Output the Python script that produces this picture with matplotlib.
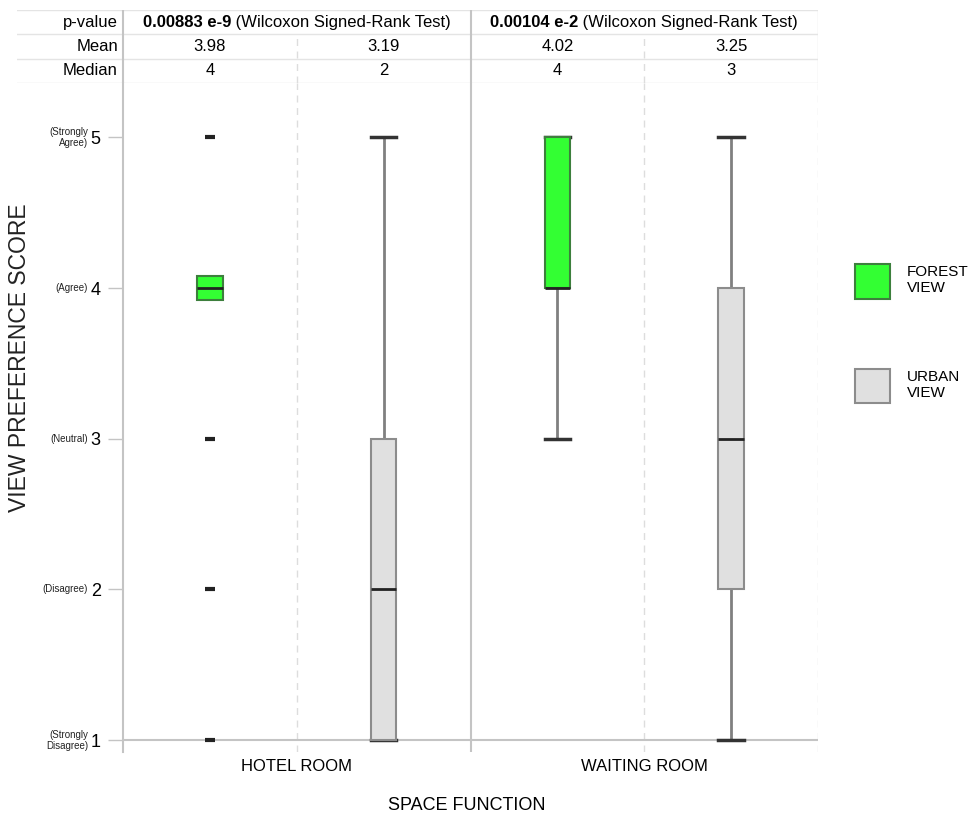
import matplotlib
matplotlib.use("Agg")
import matplotlib.pyplot as plt
from matplotlib.patches import Patch
from matplotlib.transforms import offset_copy, blended_transform_factory

plt.rcParams['font.family'] = ['Liberation Sans', 'DejaVu Sans']

# data
groups = ["HOTEL ROOM", "WAITING ROOM"]
views = ["FOREST\nVIEW", "URBAN\nVIEW"]
view_colors = ["#33ff33", "#e0e0e0"]
view_edges = ["#3d7f3d", "#8c8c8c"]

# box order: hotel/forest, hotel/urban, waiting/forest, waiting/urban
box_q1 = [3.92, 1, 4, 2]
box_med = [4, 2, 4, 3]
box_q3 = [4.08, 3, 5, 4]
box_lo = [4, 1, 3, 1]
box_hi = [4, 5, 5, 5]
box_fliers = [[5, 3, 2, 1], [], [], []]

p_values = ["0.00883 e-9", "0.00104 e-2"]
test_name = " (Wilcoxon Signed-Rank Test)"
mean_txt = ["3.98", "3.19", "4.02", "3.25"]
median_txt = ["4", "2", "4", "3"]
row_labels = ["p-value", "Mean", "Median"]

score_ticks = [1, 2, 3, 4, 5]
score_desc = ["(Strongly\nDisagree)", "(Disagree)", "(Neutral)", "(Agree)", "(Strongly\nAgree)"]

W, H = 974, 819
fig = plt.figure(figsize=(W / 100, H / 100), dpi=100)

ax_l, ax_r, ax_t, ax_b = 123, 818, 83, 752
ax = fig.add_axes([ax_l / W, 1 - ax_b / H, (ax_r - ax_l) / W, (ax_b - ax_t) / H])
ax.set_xlim(-0.5, 1.5)
ax.set_ylim(0.922, 5.36)

offs = [-0.25, 0.25]
positions = [g + o for g in range(len(groups)) for o in offs]
stats = []
for i in range(len(positions)):
    stats.append(dict(med=box_med[i], q1=box_q1[i], q3=box_q3[i],
                      whislo=box_lo[i], whishi=box_hi[i], fliers=box_fliers[i]))

bw = 0.074
bp = ax.bxp(stats, positions=positions, widths=bw, capwidths=bw, patch_artist=True,
            boxprops=dict(linewidth=1.5),
            medianprops=dict(color="#222222", linewidth=2),
            whiskerprops=dict(color="#808080", linewidth=2),
            capprops=dict(color="#333333", linewidth=2.5),
            flierprops=dict(marker="_", markersize=7, markeredgewidth=3,
                            markeredgecolor="#222222"),
            zorder=3)
for i, box in enumerate(bp["boxes"]):
    box.set_facecolor(view_colors[i % 2])
    box.set_edgecolor(view_edges[i % 2])
    box.set_zorder(4)
for m in bp["medians"]:
    m.set_zorder(5)
# the hotel/forest box has no whiskers (all answers at 4)
for art in bp["caps"][0:2] + bp["whiskers"][0:2]:
    art.set_visible(False)

# grid / separators
ax.axhline(1, color="#c4c4c4", lw=1.5, zorder=1)
for g in range(len(groups)):
    ax.axvline(g, color="#dddddd", lw=1, ls=(0, (5, 4)), zorder=0)
ax.axvline(0.5, color="#c4c4c4", lw=1.5, zorder=0)
ax.axvline(1.5, color="#e2e2e2", lw=1, ls=(0, (5, 4)), zorder=0)

for s in ["top", "right", "bottom"]:
    ax.spines[s].set_visible(False)
ax.spines["left"].set_color("#c4c4c4")
ax.spines["left"].set_linewidth(1.5)

ax.set_yticks(score_ticks)
ax.set_yticklabels([str(t) for t in score_ticks], fontsize=13)
ax.tick_params(axis="y", length=11, width=1, color="#c4c4c4", pad=5)
ax.set_xticks(range(len(groups)))
ax.set_xticklabels(groups, fontsize=12)
ax.tick_params(axis="x", length=0, pad=5)

trans = blended_transform_factory(fig.transFigure, ax.transData)
for t, d in zip(score_ticks, score_desc):
    ax.text(88 / W, t, d, transform=trans, ha="right", va="center",
            fontsize=7, linespacing=1.15, color="#222222")

fig.text(20 / W, 1 - 358 / H, "VIEW PREFERENCE SCORE", rotation=90,
         ha="center", va="center", fontsize=16.5, color="#222222")
fig.text(467 / W, 1 - 806 / H, "SPACE FUNCTION", ha="center", va="center", fontsize=13)

# table above the plot
tb_l, tb_t = 17, 10
tx = fig.add_axes([tb_l / W, 1 - ax_t / H, (ax_r - tb_l) / W, (ax_t - tb_t) / H])
tx.set_xlim(-0.5 - (ax_l - tb_l) / (ax_r - ax_l) * 2, 1.5)
tx.set_ylim(0, 3)
tx.axis("off")
for yy in [0, 1, 2, 3]:
    tx.axhline(yy, color="#e4e4e4", lw=1)
tx.axvline(-0.5, color="#c4c4c4", lw=1.5)
tx.axvline(0.5, color="#c4c4c4", lw=1.5)
tx.axvline(1.5, color="#e4e4e4", lw=1)
for g in range(len(groups)):
    tx.plot([g, g], [0, 2], color="#dddddd", lw=1, ls=(0, (5, 4)))

lab_trans = blended_transform_factory(fig.transFigure, tx.transData)
for k, lab in enumerate(row_labels):
    tx.text(118 / W, 2.5 - k, lab, transform=lab_trans, ha="right", va="center", fontsize=12)

for i, p in enumerate(positions):
    tx.text(p, 1.5, mean_txt[i], ha="center", va="center", fontsize=12)
    tx.text(p, 0.5, median_txt[i], ha="center", va="center", fontsize=12)

fig.canvas.draw()
r = fig.canvas.get_renderer()
for g, pv in enumerate(p_values):
    t1 = tx.text(g, 2.5, pv, ha="right", va="center", fontsize=12, weight="bold")
    t2 = tx.text(g, 2.5, test_name, ha="left", va="center", fontsize=12)
    w1 = t1.get_window_extent(r).width
    w2 = t2.get_window_extent(r).width
    tr = offset_copy(tx.transData, fig=fig, x=(w1 - w2) / 2, units="dots")
    t1.set_transform(tr)
    t2.set_transform(tr)

handles = [Patch(facecolor=view_colors[i], edgecolor=view_edges[i], lw=1.5) for i in range(2)]
fig.legend(handles, views, loc="upper left", bbox_to_anchor=(855 / W, 1 - 264 / H),
           frameon=False, fontsize=11, handlelength=2.3, handleheight=3.1,
           handletextpad=1.1, labelspacing=4.6, borderpad=0, borderaxespad=0)

fig.savefig("out.png", dpi=100)
